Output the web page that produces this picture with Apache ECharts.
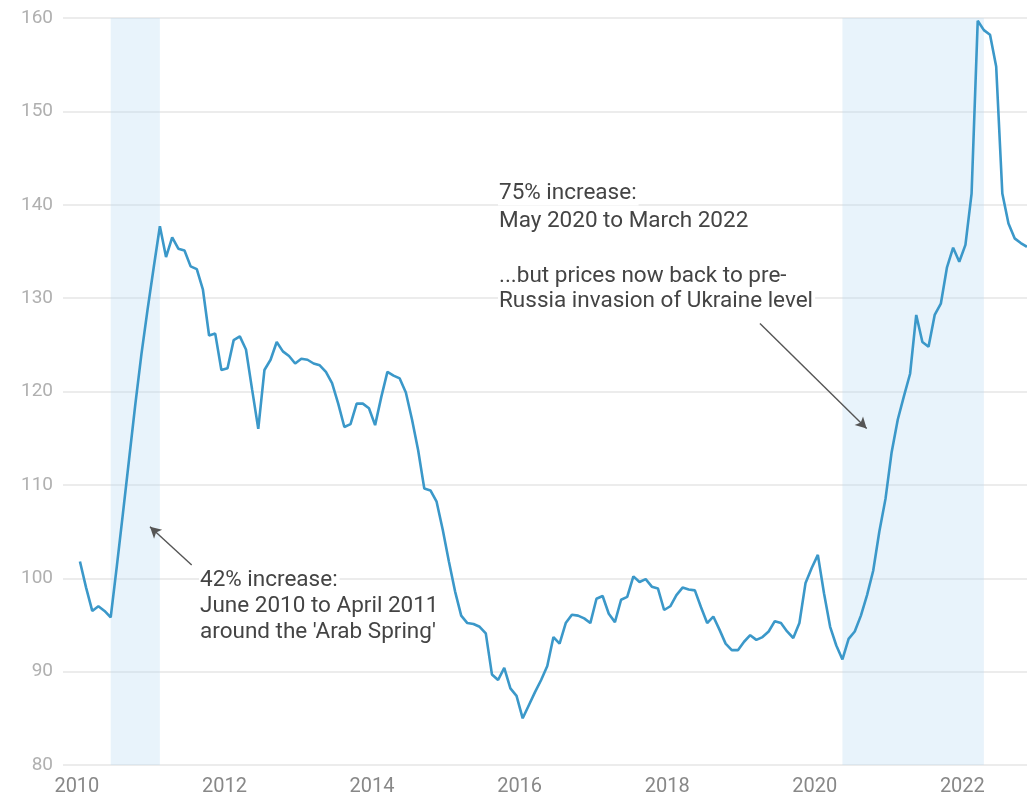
<!DOCTYPE html>
<html>
<head>
<meta charset="utf-8">
<script src="https://cdn.jsdelivr.net/npm/echarts@6/dist/echarts.min.js"></script>
<style>
html,body{margin:0;padding:0;background:#ffffff;}
#chart{width:1027px;height:799px;}
</style>
</head>
<body>
<div id="chart"></div>
<script>
// Monthly food price index values, one array per year (Jan..Dec)
const startYear = 2010;
const v2010 = [101.8, 99.0, 96.5, 97.0, 96.5, 95.8, 101.3, 107.0, 112.8, 118.6, 124.0, 128.8];
const v2011 = [133.3, 137.7, 134.4, 136.5, 135.3, 135.1, 133.4, 133.1, 130.9, 126.0, 126.2, 122.3];
const v2012 = [122.5, 125.5, 125.9, 124.5, 120.2, 116.0, 122.3, 123.4, 125.3, 124.3, 123.8, 123.0];
const v2013 = [123.5, 123.4, 123.0, 122.8, 122.1, 120.9, 118.7, 116.2, 116.5, 118.7, 118.7, 118.2];
const v2014 = [116.4, 119.4, 122.1, 121.7, 121.4, 119.9, 117.0, 113.7, 109.6, 109.4, 108.2, 105.2];
const v2015 = [101.8, 98.6, 96.0, 95.2, 95.1, 94.8, 94.1, 89.7, 89.1, 90.4, 88.2, 87.4];
const v2016 = [85.0, 86.4, 87.8, 89.1, 90.6, 93.7, 93.0, 95.2, 96.1, 96.0, 95.7, 95.2];
const v2017 = [97.8, 98.1, 96.2, 95.3, 97.7, 98.0, 100.2, 99.6, 99.9, 99.1, 98.9, 96.6];
const v2018 = [97.0, 98.2, 99.0, 98.8, 98.7, 96.9, 95.2, 95.9, 94.5, 93.0, 92.3, 92.3];
const v2019 = [93.2, 93.9, 93.4, 93.7, 94.3, 95.4, 95.2, 94.3, 93.6, 95.2, 99.5, 101.1];
const v2020 = [102.5, 98.4, 94.8, 92.8, 91.3, 93.5, 94.3, 96.0, 98.2, 100.8, 105.0, 108.5];
const v2021 = [113.5, 117.0, 119.5, 121.9, 128.2, 125.3, 124.8, 128.2, 129.4, 133.3, 135.4, 133.9];
const v2022 = [135.7, 141.2, 159.7, 158.7, 158.2, 154.8, 141.2, 138.0, 136.4, 135.9, 135.5];

const yearlyValues = [v2010, v2011, v2012, v2013, v2014, v2015, v2016, v2017, v2018, v2019, v2020, v2021, v2022];

// Tick labels
const xTickYears = [2010, 2012, 2014, 2016, 2018, 2020, 2022];
const yTickMin = 80, yTickMax = 160, yTickStep = 10;

// Shaded periods (year, month 1-12)
const bands = [
  [[2010, 6], [2011, 2]],
  [[2020, 5], [2022, 4]]
];

// Annotation text lines
const note1Lines = ["42% increase:", "June 2010 to April 2011", "around the 'Arab Spring'"];
const note2Lines = ["75% increase:", "May 2020 to March 2022", "...but prices now back to pre-", "Russia invasion of Ukraine level"];

// Arrows in data space [fromX, fromY] -> [toX, toY]
const arrows = [
  [[2011.556, 101.41], [2010.991, 105.51]],
  [[2019.257, 127.29], [2020.703, 116.05]]
];

function monthX(year, month) { return year + (month - 0.5) / 12; }

const seriesData = [];
yearlyValues.forEach((arr, yi) => {
  arr.forEach((v, mi) => seriesData.push([monthX(startYear + yi, mi + 1), v]));
});

// layout for annotation lines (pixel centres)
const note1Pos = {x: 199, ys: [580, 606.5, 632]};
const note2Pos = {x: 498, ys: [193, 221.5, 276, 301.5]};

function textLines(lines, pos) {
  return lines.map((t, i) => ({
    type: 'text',
    x: pos.x,
    y: pos.ys[i],
    silent: true,
    z: 10,
    style: {
      text: t,
      fill: '#444444',
      fontSize: 22.5,
      fontFamily: 'Roboto',
      verticalAlign: 'middle',
      align: 'left',
      lineHeight: 25,
      backgroundColor: '#ffffff',
      padding: [0, 2, 0, 1]
    }
  }));
}

const chart = echarts.init(document.getElementById('chart'), null, {renderer: 'canvas'});

const option = {
  animation: false,
  backgroundColor: '#ffffff',
  grid: {left: 63, right: 0, top: 18, bottom: 34, containLabel: false},
  xAxis: {
    type: 'value',
    min: 2009.812,
    max: 2022.876,
    axisLine: {show: false},
    axisTick: {show: false},
    splitLine: {show: false},
    axisLabel: {
      customValues: xTickYears,
      formatter: v => String(Math.round(v)),
      color: '#888888',
      fontSize: 20,
      fontFamily: 'Roboto',
      margin: 12
    }
  },
  yAxis: {
    type: 'value',
    min: yTickMin,
    max: yTickMax,
    interval: yTickStep,
    axisLine: {show: false},
    axisTick: {show: false},
    splitLine: {lineStyle: {color: '#e6e6e6', width: 1.5}},
    axisLabel: {
      color: '#b0b0b0',
      fontSize: 19,
      fontFamily: 'Roboto',
      margin: 10
    }
  },
  series: [{
    type: 'line',
    data: seriesData,
    showSymbol: false,
    symbol: 'none',
    lineStyle: {color: '#3b98c9', width: 2.6},
    silent: true,
    z: 3,
    markArea: {
      silent: true,
      itemStyle: {color: 'rgba(190,222,243,0.35)'},
      data: bands.map(b => [{xAxis: monthX(b[0][0], b[0][1])}, {xAxis: monthX(b[1][0], b[1][1])}])
    },
    markLine: {
      silent: true,
      symbol: ['none', 'arrow'],
      symbolSize: [9, 11],
      label: {show: false},
      lineStyle: {color: '#555555', width: 1.4, type: 'solid'},
      emphasis: {disabled: true},
      data: arrows.map(a => [{coord: a[0]}, {coord: a[1]}])
    }
  }],
  graphic: textLines(note1Lines, note1Pos).concat(textLines(note2Lines, note2Pos))
};

chart.setOption(option);
</script>
</body>
</html>
